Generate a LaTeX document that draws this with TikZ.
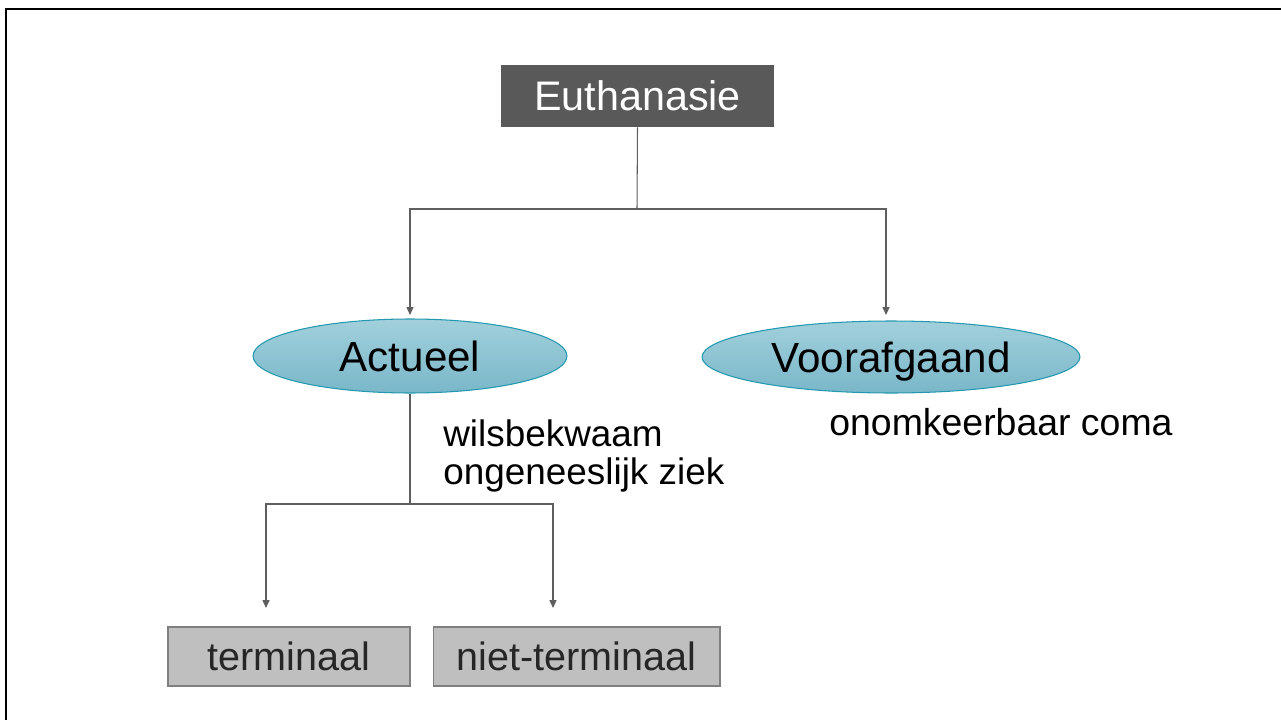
\documentclass[tikz,border=0pt]{standalone}
\usepackage{fontspec}
\setmainfont{Liberation Sans}
\usetikzlibrary{shapes.geometric,arrows.meta}

\definecolor{headgray}{HTML}{595959}
\definecolor{linegray}{HTML}{5F5F5F}
\definecolor{boxgray}{HTML}{BFBFBF}
\definecolor{edgegray}{HTML}{7F7F7F}
\definecolor{kindtop}{HTML}{A2D0DC}
\definecolor{kindbot}{HTML}{79B7C9}
\definecolor{kindedge}{HTML}{2398AE}

\def\forky{209}
\def\subforky{504}

\begin{document}
\begin{tikzpicture}[x=0.02cm,y=-0.02cm]
		\tikzstyle{link}=[draw=linegray,line width=0.6pt]
		\tikzstyle{arrow link}=[link,-{Triangle[width=4pt,length=4.5pt]}]
		\tikzstyle{topic}=[rectangle,fill=headgray,text=white,minimum width=5.46cm,minimum height=1.24cm,font=\fontsize{23.5}{28}\selectfont]
		\tikzstyle{kind}=[ellipse,draw=kindedge,line width=0.6pt,top color=kindtop,bottom color=kindbot,inner sep=0pt,text height=17.2pt,text depth=0pt,font=\fontsize{24}{28}\selectfont]
		\tikzstyle{case}=[rectangle,draw=edgegray,line width=0.6pt,fill=boxgray,text=black!85,minimum height=1.18cm,font=\fontsize{22.5}{27}\selectfont]
		\tikzstyle{annot}=[anchor=base west,inner sep=0pt,align=left]

		\useasboundingbox (0,0) rectangle (1281,720);
		\draw[line width=1.7pt] (1281,9) -- (6,9) -- (6,720);

			% Draw the main node and the two kinds
		\node[topic] (eu) at (637.5,96) {Euthanasie};
		\node[kind,minimum width=6.28cm,minimum height=1.48cm] (act) at (410,356) {Actueel};
		\node[kind,minimum width=7.56cm,minimum height=1.44cm] (voor) at (891,357) {Voorafgaand};

			% Draw the cases
		\node[case,minimum width=4.84cm] (term) at (289,656.5) {terminaal};
		\node[case,minimum width=5.74cm] (niet) at (576.5,656.5) {niet-terminaal};

			% Conditions (base = last line here)
		\node[annot,font=\fontsize{21}{21.5}\selectfont] (cond) at (443,484) {wilsbekwaam\\ongeneeslijk ziek};
		\node[annot,font=\fontsize{21.3}{24}\selectfont] (coma) at (829,435) {onomkeerbaar coma};

			% Connect the main node with the kinds
		\coordinate (fork) at (637,\forky);
		\coordinate (act-in) at (410,315);
		\coordinate (voor-in) at (886,315);
		\draw[link] (eu.south) -- (fork);
		\foreach \dest in {act-in,voor-in}
		\draw[arrow link] (fork) -| (\dest);

			% Connect Actueel with the cases
		\coordinate (subfork) at (410,\subforky);
		\coordinate (term-in) at (266,608);
		\coordinate (niet-in) at (553,608);
		\draw[link] (act.south) -- (subfork);
		\foreach \dest in {term-in,niet-in}
		\draw[arrow link] (subfork) -| (\dest);
\end{tikzpicture}
\end{document}
